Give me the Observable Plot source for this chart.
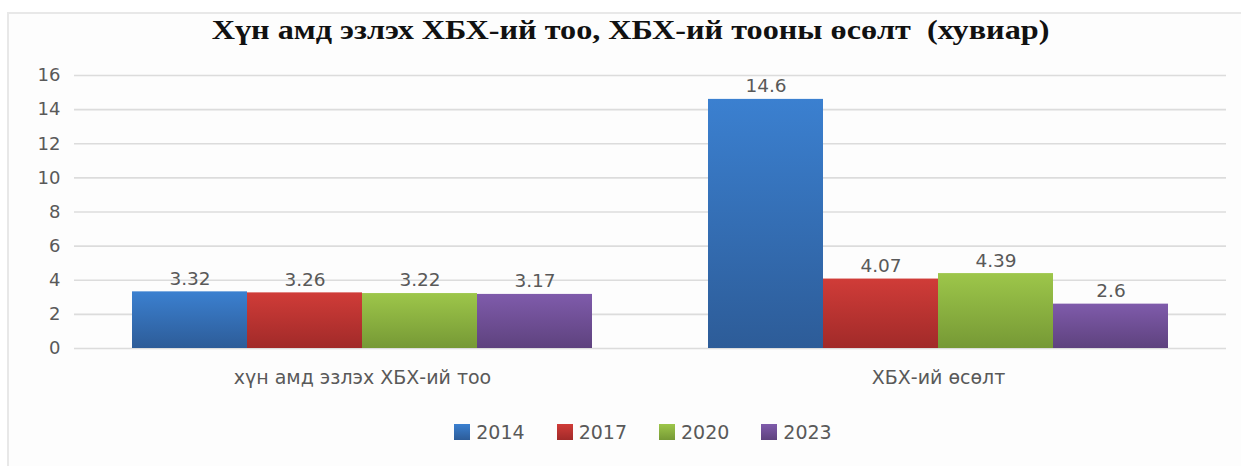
<!DOCTYPE html>
<html>
<head>
<meta charset="utf-8">
<script src="https://cdn.jsdelivr.net/npm/d3@7"></script>
<script src="https://cdn.jsdelivr.net/npm/@observablehq/plot@0.6"></script>
<style>
  body { margin: 0; background: #fff; }
  #wrap { position: relative; width: 1241px; height: 466px; overflow: hidden; background: #fff; }
  #frame { position: absolute; left: 7px; top: 12px; width: 1300px; height: 500px;
           border-top: 2px solid #e8e8e8; border-left: 2px solid #e8e8e8; background: #fdfdfd; }
  #title { position: absolute; top: 14px; left: 10px; width: 1241px; text-align: center;
           font-family: "Liberation Serif", "Times New Roman", serif; font-weight: bold;
           font-size: 28px; color: #111; white-space: pre; transform: scaleX(1.15); transform-origin: 620px 0; }
  #chart { position: absolute; left: 0; top: 60px; }
  #legend { position: absolute; top: 421px; left: 0; width: 1286px; display: flex; justify-content: center;
            gap: 32px; font-family: "DejaVu Sans", sans-serif; font-size: 19px; color: #595959; }
  .item { display: flex; align-items: center; gap: 6px; }
  .sw { width: 16px; height: 16px; }
</style>
</head>
<body>
<div id="wrap">
  <div id="frame"></div>
  <div id="title"></div>
  <div id="chart"></div>
  <div id="legend"></div>
</div>
<script>
const titleText = "Хүн амд эзлэх ХБХ-ий тоо, ХБХ-ий тооны өсөлт  (хувиар)";
const categories = ["хүн амд эзлэх ХБХ-ий тоо", "ХБХ-ий өсөлт"];
const years = ["2014", "2017", "2020", "2023"];
const values2014 = [3.32, 14.6];
const values2017 = [3.26, 4.07];
const values2020 = [3.22, 4.39];
const values2023 = [3.17, 2.6];
const yTicks = [0, 2, 4, 6, 8, 10, 12, 14, 16];

const seriesValues = [values2014, values2017, values2020, values2023];
const gradients = [
  ["#3b80d0", "#2d5c98"],
  ["#d03c38", "#a12a29"],
  ["#9dc64a", "#769935"],
  ["#7f5bab", "#5e427e"]
];

const rows = [];
years.forEach((yr, i) => {
  categories.forEach((c, j) => rows.push({category: c, year: yr, value: seriesValues[i][j]}));
});

document.getElementById("title").textContent = titleText;

const font = "DejaVu Sans, sans-serif";
const gray = "#595959";

const marks = [
  Plot.ruleY(yTicks, {stroke: "#dcdcdc", strokeWidth: 1.6}),
  ...years.map((yr, i) => Plot.barY(rows.filter(d => d.year === yr), {
    fx: "category", x: "year", y: "value", fill: `url(#g${i})`
  })),
  Plot.text(rows, {fx: "category", x: "year", y: "value", text: d => String(d.value),
    dy: -13, fill: gray, fontSize: 18.5, fontFamily: font}),
  Plot.axisY({ticks: yTicks, tickSize: 0, tickPadding: 14, fontSize: 18, fontFamily: font, fill: gray, label: null}),
  Plot.axisFx({anchor: "bottom", tickSize: 0, tickPadding: 22, fontSize: 19, fontFamily: font, fill: gray, label: null})
];

const svg = Plot.plot({
  width: 1241,
  height: 345,
  marginTop: 15,
  marginBottom: 57,
  marginLeft: 73,
  marginRight: 15,
  style: {background: "transparent", overflow: "visible"},
  fx: {domain: categories, padding: 0},
  x: {domain: years, axis: null, paddingInner: 0, paddingOuter: 0.5},
  y: {domain: [0, 16], axis: null},
  marks
});

const defs = d3.create("svg:defs");
gradients.forEach(([a, b], i) => {
  const g = defs.append("linearGradient").attr("id", `g${i}`).attr("x1", 0).attr("y1", 0).attr("x2", 0).attr("y2", 1);
  g.append("stop").attr("offset", "0%").attr("stop-color", a);
  g.append("stop").attr("offset", "100%").attr("stop-color", b);
});
svg.insertBefore(defs.node(), svg.firstChild);
document.getElementById("chart").appendChild(svg);

const legend = document.getElementById("legend");
years.forEach((yr, i) => {
  const item = document.createElement("div");
  item.className = "item";
  const sw = document.createElement("div");
  sw.className = "sw";
  sw.style.background = `linear-gradient(${gradients[i][0]}, ${gradients[i][1]})`;
  const t = document.createElement("span");
  t.textContent = yr;
  item.appendChild(sw); item.appendChild(t);
  legend.appendChild(item);
});
</script>
</body>
</html>
